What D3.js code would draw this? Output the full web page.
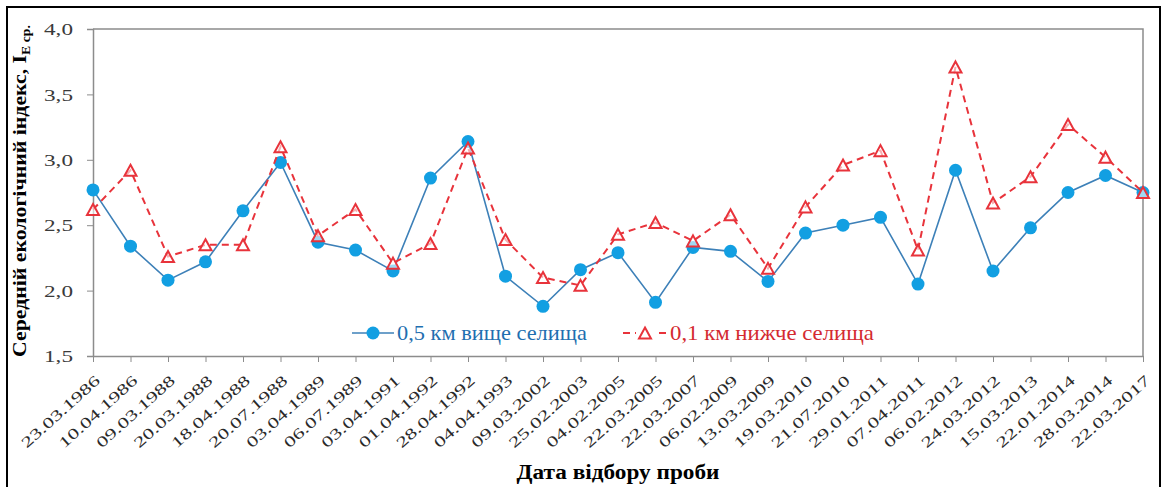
<!DOCTYPE html>
<html><head><meta charset="utf-8">
<script src="https://cdn.jsdelivr.net/npm/d3@7/dist/d3.min.js"></script>
<style>body{margin:0;background:#fff}svg{display:block}</style>
</head><body>
<svg id="c" width="1163" height="487"></svg>
<script>
const dates = ["23.03.1986","10.04.1986","09.03.1988","20.03.1988","18.04.1988","20.07.1988","03.04.1989","06.07.1989","03.04.1991","01.04.1992","28.04.1992","04.04.1993","09.03.2002","25.02.2003","04.02.2005","22.03.2005","22.03.2007","06.02.2009","13.03.2009","19.03.2010","21.07.2010","29.01.2011","07.04.2011","06.02.2012","24.03.2012","15.03.2013","22.01.2014","28.03.2014","22.03.2017"];
const upstream = [2.77,2.34,2.08,2.22,2.61,2.98,2.37,2.31,2.15,2.86,3.14,2.11,1.88,2.16,2.29,1.91,2.33,2.30,2.07,2.44,2.50,2.56,2.05,2.92,2.15,2.48,2.75,2.88,2.75];
const downstream = [2.62,2.92,2.26,2.35,2.35,3.10,2.42,2.62,2.21,2.36,3.09,2.39,2.10,2.04,2.43,2.52,2.38,2.58,2.17,2.64,2.96,3.07,2.31,3.71,2.67,2.87,3.27,3.02,2.75];
const yTicks = [1.5,2.0,2.5,3.0,3.5,4.0];
const seriesNames = ["0,5 км вище селища","0,1 км нижче селища"];

const svg = d3.select("#c");
const L = 93, R = 1143, T = 29, B = 356;
const x = d3.scalePoint().domain(dates).range([L, R]);
const y = d3.scaleLinear().domain([1.5, 4.0]).range([B, T]);
const blueLine = "#3d80b8", blueFill = "#129fe2", red = "#e8333b", axisCol = "#8c8c8c";
const SERIF = '"Liberation Serif"';

// stretch a text horizontally (along its own baseline) to a target length
function fit(sel, prefix, target){
  sel.each(function(){
    const w = this.getComputedTextLength();
    const k = target / w;
    d3.select(this).attr("transform", `${prefix(this)} scale(${k},1)`);
  });
}

// outer frame
svg.append("rect").attr("x",7).attr("y",7).attr("width",1153).attr("height",500)
  .attr("fill","none").attr("stroke","#000").attr("stroke-width",2);

// plot border top/right
svg.append("path").attr("d",`M${L},${T}H${R}V${B}`).attr("fill","none").attr("stroke",axisCol).attr("stroke-width",1.5);

// y axis
const ya = svg.append("g").attr("transform",`translate(${L},0)`)
  .call(d3.axisLeft(y).tickValues(yTicks).tickSize(6).tickPadding(20).tickFormat(d=>d3.format(".1f")(d).replace(".",",")));
ya.select(".domain").attr("stroke",axisCol).attr("stroke-width",1.5);
ya.selectAll(".tick line").attr("stroke",axisCol);
const ytx = ya.selectAll(".tick text").style("font-family",SERIF).attr("font-size",17).attr("fill","#3a3a3a")
  .attr("x",0).attr("dy","0.33em");
fit(ytx, ()=>"translate(-20,0)", 29);

// x axis
const xa = svg.append("g").attr("transform",`translate(0,${B})`)
  .call(d3.axisBottom(x).tickSize(6).tickSizeOuter(0));
xa.select(".domain").attr("stroke",axisCol).attr("stroke-width",1.5);
xa.selectAll(".tick line").attr("stroke",axisCol);
const xtx = xa.selectAll(".tick text").style("font-family",SERIF).attr("font-size",15).attr("fill","#2a2a2a")
  .attr("text-anchor","end").attr("x",0).attr("y",0).attr("dy","0.35em");
fit(xtx, ()=>"translate(4,22) rotate(-42)", 100);

// lines
const line = d3.line().x((d,i)=>x(dates[i])).y(d=>y(d));
svg.append("path").datum(upstream).attr("d",line).attr("fill","none").attr("stroke",blueLine).attr("stroke-width",1.6);
svg.selectAll(".c").data(upstream).join("circle").attr("cx",(d,i)=>x(dates[i])).attr("cy",d=>y(d)).attr("r",6.5).attr("fill",blueFill);

svg.append("path").datum(downstream).attr("d",line).attr("fill","none").attr("stroke",red).attr("stroke-width",2).attr("stroke-dasharray","7,5");
const tri = (cx,cy)=>`M${cx},${cy-5.5}L${cx+6},${cy+5.5}L${cx-6},${cy+5.5}Z`;
svg.selectAll(".t").data(downstream).join("path").attr("d",(d,i)=>tri(x(dates[i]),y(d)))
  .attr("fill","#fff").attr("fill-opacity",0.6).attr("stroke",red).attr("stroke-width",2);

// legend
const lg = svg.append("g");
const ly = 333;
lg.append("line").attr("x1",352).attr("x2",394).attr("y1",ly).attr("y2",ly).attr("stroke",blueLine).attr("stroke-width",1.6);
lg.append("circle").attr("cx",373).attr("cy",ly).attr("r",6.5).attr("fill",blueFill);
const lt1 = lg.append("text").attr("dy","0.33em").text(seriesNames[0])
  .style("font-family",SERIF).attr("font-size",21).attr("fill","#1f6fb0");
fit(lt1, ()=>`translate(397,${ly})`, 190);
lg.append("line").attr("x1",622).attr("x2",668).attr("y1",ly).attr("y2",ly).attr("stroke",red).attr("stroke-width",2).attr("stroke-dasharray","7,5").attr("stroke-dashoffset",-1);
lg.append("rect").attr("x",636).attr("y",ly-8).attr("width",18).attr("height",16).attr("fill","#fff");
lg.append("path").attr("d",tri(645,ly)).attr("fill","#fff").attr("stroke",red).attr("stroke-width",2);
const lt2 = lg.append("text").attr("dy","0.33em").text(seriesNames[1])
  .style("font-family",SERIF).attr("font-size",21).attr("fill","#d42a30");
fit(lt2, ()=>`translate(670,${ly})`, 204);

// axis titles
const xt = svg.append("text").attr("text-anchor","middle").text("Дата відбору проби")
  .style("font-family",SERIF).attr("font-size",20).attr("font-weight","bold").attr("fill","#000");
fit(xt, ()=>"translate(618,479)", 203);

const yt = svg.append("text")
  .style("font-family",SERIF).attr("font-size",19).attr("font-weight","bold").attr("fill","#000");
yt.append("tspan").text("Середній екологічний індекс, I");
yt.append("tspan").attr("dy",4).attr("font-size",12).text("Е ср.");
fit(yt, ()=>"translate(26,357) rotate(-90)", 332);
</script>
</body></html>
